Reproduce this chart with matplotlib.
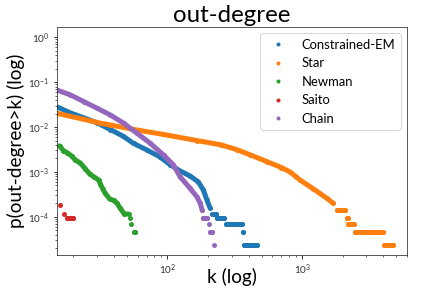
import matplotlib
matplotlib.use('Agg')
import matplotlib.pyplot as plt
from matplotlib.lines import Line2D

plt.rcParams['font.family'] = ['Lato', 'DejaVu Sans']
plt.rcParams['mathtext.fontset'] = 'custom'
plt.rcParams['mathtext.rm'] = 'Lato'
plt.rcParams['mathtext.it'] = 'Lato:italic'
plt.rcParams['mathtext.bf'] = 'Lato:bold'

# CCDF of out-degree
# each series is a list of runs (consecutive degrees drawn as one band)
names = ['Constrained-EM', 'Star', 'Newman', 'Saito', 'Chain']
colors = ['#1f77b4', '#ff7f0e', '#2ca02c', '#d62728', '#9467bd']

con_em_k = [[15, 19, 24, 30, 37.6, 47, 56, 70, 88, 105, 124, 147, 169, 185, 196, 207],
            [215, 228], [235, 262], [270, 360], [362, 366], [368, 459]]
con_em_p = [[0.0285, 0.0206, 0.016, 0.0124, 0.0088, 0.0062, 0.0043, 0.0031, 0.00215, 0.00143,
             0.00105, 0.00081, 0.0006, 0.00039, 0.000236, 0.000156],
            [1.15e-4, 1.15e-4], [9.2e-5, 9.2e-5], [6.9e-5, 6.9e-5], [4.6e-5, 4.6e-5], [2.3e-5, 2.3e-5]]

star_k = [[15, 24, 31.7, 37.6, 59, 93, 165, 250, 330, 410, 545, 700, 811, 900, 962, 1206, 1517, 1697],
          [1798, 2070], [2133, 2170], [2200, 2420], [2450, 3950], [4050, 4700]]
star_p = [[0.0203, 0.0148, 0.0122, 0.0111, 0.0086, 0.00684, 0.005, 0.004, 0.0031, 0.0024, 0.0017,
           0.00125, 0.001, 0.00078, 0.00066, 0.00042, 0.00026, 0.0002],
          [1.38e-4, 1.38e-4], [9.2e-5, 9.2e-5], [6.9e-5, 6.9e-5], [4.6e-5, 4.6e-5], [2.3e-5, 2.3e-5]]

newman_k = [[15.8, 16.9, 18.1, 19.4, 20.7, 22.6, 24.6, 26.4, 28.3, 30.8, 31.7, 33.2, 34.5, 37.2,
             39.8, 42.2, 44.6, 47.8, 51.4],
            [52.9], [53.8], [56, 57.6]]
newman_p = [[0.00379, 0.00297, 0.00264, 0.00226, 0.00184, 0.00156, 0.00116, 0.0009, 0.00078,
             0.00066, 0.00054, 0.00041, 0.00033, 0.00025, 0.00023, 0.0002, 0.000154, 1.15e-4, 1.15e-4],
            [9.2e-5], [6.9e-5], [4.6e-5, 4.6e-5]]

saito_k = [[16], [17], [18, 20]]
saito_p = [[1.84e-4], [1.15e-4], [9.2e-5, 9.2e-5]]

chain_k = [[15, 19, 23.9, 30, 37.6, 47.2, 59.3, 74.4, 93.4, 110.8, 124, 147, 165, 175, 181],
           [185, 198], [202], [207, 213], [220]]
chain_p = [[0.0673, 0.0521, 0.0369, 0.0263, 0.0186, 0.0122, 0.00727, 0.00435, 0.00238, 0.00143,
            0.00078, 0.00043, 0.00028, 0.0002, 1.38e-4],
           [9.2e-5, 9.2e-5], [6.9e-5], [4.6e-5, 4.6e-5], [2.3e-5]]

all_k = [con_em_k, star_k, newman_k, saito_k, chain_k]
all_p = [con_em_p, star_p, newman_p, saito_p, chain_p]

fig = plt.figure(figsize=(6, 4), dpi=72)
ax = fig.add_axes([0.1308, 0.1146, 0.8114, 0.7917])

for runs_k, runs_p, c in zip(all_k, all_p, colors):
    for k, p in zip(runs_k, runs_p):
        ax.plot(k, p, '-o', color=c, lw=5, ms=5, mew=0, solid_capstyle='round')

ax.set_xscale('log')
ax.set_yscale('log')
ax.set_xlim(15, 6000)
ax.set_ylim(1.4e-5, 1.7)

ax.set_title('out-degree', fontsize=24, pad=5)
ax.set_xlabel('k (log)', fontsize=19, labelpad=-9)
ax.set_ylabel('p(out-degree>k) (log)', fontsize=19, labelpad=3)
ax.tick_params(labelsize=10, labelcolor='#333333')
for s in ax.spines.values():
    s.set_color('#333333')

handles = [Line2D([], [], ls='', marker='o', ms=4, mew=0, color=c) for c in colors]
ax.legend(handles, names, loc='upper right', fontsize=13)

fig.savefig('out.png', dpi=72)
